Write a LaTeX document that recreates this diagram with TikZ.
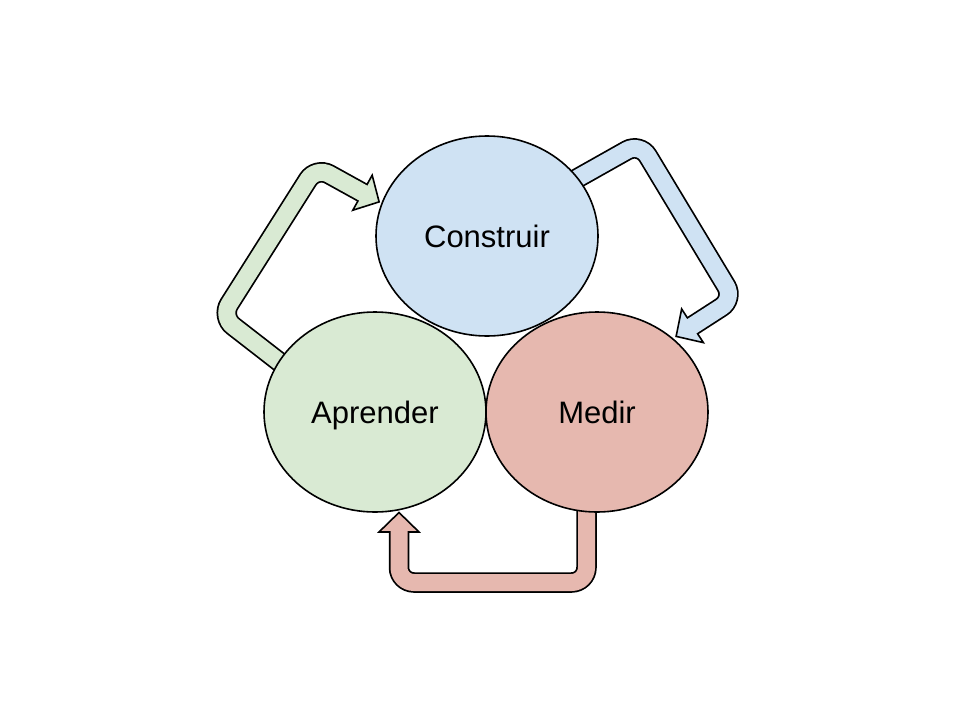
\documentclass[tikz,border=0pt]{standalone}
\usepackage{fontspec}
\setmainfont{Liberation Sans}
\usetikzlibrary{calc, shapes.geometric}
\definecolor{blu}{HTML}{CFE2F3}
\definecolor{grn}{HTML}{D9EAD3}
\definecolor{rdd}{HTML}{E6B8AF}
\tikzset{
  phase/.style={ellipse, draw, line width=1.6pt, minimum width=222pt, minimum height=200pt,
    inner sep=0pt, text height=22pt, text depth=0pt, font=\fontsize{31}{37}\selectfont},
  shaft/.style={line width=20.5pt, rounded corners=15pt},
  core/.style={line width=17pt, rounded corners=15pt},
  head/.style={draw, line width=1.6pt, line join=miter},
}

\begin{document}
\begin{tikzpicture}[x=1pt, y=-1pt]
    \useasboundingbox (0,0) rectangle (960,720);
    % green: Aprender -> Construir
    \coordinate (g0) at (291.4,371.3);
    \coordinate (g1) at (221.2,316.8);
    \coordinate (g2) at (316,167);
    \coordinate (gb) at (362.5,192.7);
    \coordinate (gt) at ($(gb)!-19pt!(g2)$);
    \draw[head, fill=grn] ($(gb)!20pt!90:(gt)$) -- (gt) -- ($(gb)!20pt!-90:(gt)$) -- cycle;
    \draw[shaft] (g0) -- (g1) -- (g2) -- (gb);
    \draw[core, grn] (g0) -- (g1) -- (g2) -- ($(gb)!4pt!(gt)$);
    % blue: Construir -> Medir
    \coordinate (b0) at (567.9,183.6);
    \coordinate (b1) at (640,143);
    \coordinate (b2) at (734,299);
    \coordinate (bb) at (692.5,325.8);
    \coordinate (bt) at ($(bb)!-19.5pt!(b2)$);
    \draw[head, fill=blu] ($(bb)!20pt!90:(bt)$) -- (bt) -- ($(bb)!20pt!-90:(bt)$) -- cycle;
    \draw[shaft] (b0) -- (b1) -- (b2) -- (bb);
    \draw[core, blu] (b0) -- (b1) -- (b2) -- ($(bb)!4pt!(bt)$);
    % red: Medir -> Aprender
    \coordinate (r0) at (586.5,495);
    \coordinate (r1) at (586.5,582.5);
    \coordinate (r2) at (399,582.5);
    \coordinate (rb) at (399,532);
    \coordinate (rt) at (399,512.5);
    \draw[head, fill=rdd] ($(rb)!20pt!90:(rt)$) -- (rt) -- ($(rb)!20pt!-90:(rt)$) -- cycle;
    \draw[shaft] (r0) -- (r1) -- (r2) -- (rb);
    \draw[core, rdd] (r0) -- (r1) -- (r2) -- ($(rb)!4pt!(rt)$);
    % phases
    \node[phase, fill=grn] (A) at (375,412) {Aprender};
    \node[phase, fill=rdd] (M) at (597,412) {Medir};
    \node[phase, fill=blu] (C) at (487,236) {Construir};
\end{tikzpicture}
\end{document}
